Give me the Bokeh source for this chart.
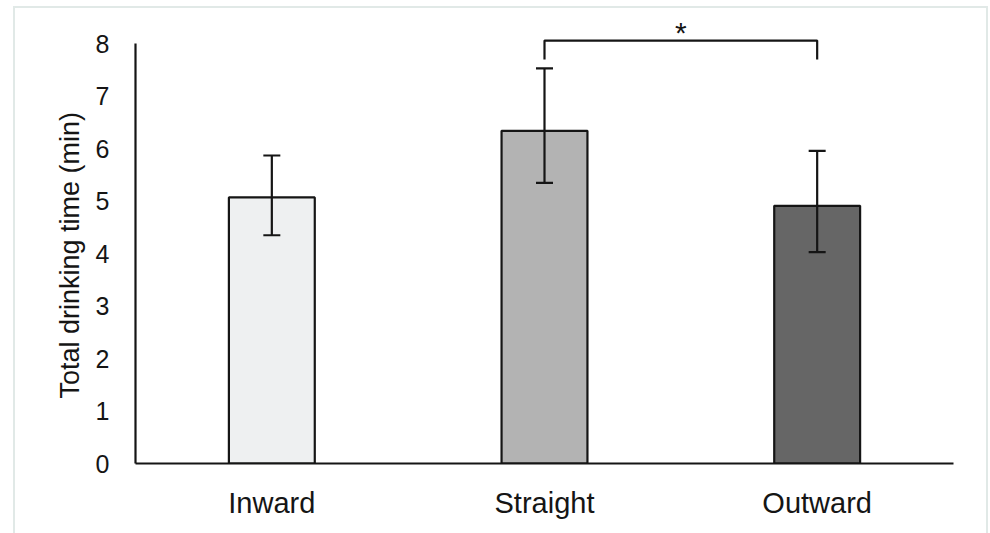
from bokeh.plotting import figure
from bokeh.models import ColumnDataSource, Range1d, FactorRange, Whisker, TeeHead, Title
from bokeh.transform import dodge
from bokeh.core.properties import value
from bokeh.embed import file_html
from bokeh.resources import INLINE

categories = ["Inward", "Straight", "Outward"]
means = [5.07, 6.34, 4.91]
err_upper = [5.87, 7.53, 5.96]
err_lower = [4.35, 5.35, 4.03]
colors = ["#EEF0F1", "#B3B3B3", "#666666"]

bracket_x = ["Straight", "Straight", "Outward", "Outward"]
bracket_y = [7.70, 8.06, 8.06, 7.70]
sig_label = ["*"]
sig_x = ["Straight"]
sig_y = [8.06]
y_label = "Total drinking time (min)"

FONT = "Liberation Sans"
INK = "#151515"
EDGE = "#E1E9E7"

p = figure(x_range=FactorRange(factors=categories, range_padding=0),
           y_range=Range1d(0, 8.5),
           width=990, height=533, output_backend="svg", toolbar_location=None,
           min_border_left=135, min_border_right=37, min_border_top=17, min_border_bottom=70)
p.border_fill_color = None
p.background_fill_color = None
bar = "linear-gradient(%s,%s)" % (EDGE, EDGE)
p.styles = {
    "background-color": "white",
    "background-image": ", ".join([bar] * 3),
    "background-position": "13px 6px, 13px 6px, 986px 6px",
    "background-size": "975px 2px, 2px 540px, 2px 540px",
    "background-repeat": "no-repeat",
}

src = ColumnDataSource(dict(cat=categories, mean=means, up=err_upper, lo=err_lower, color=colors))
p.vbar(x="cat", top="mean", width=0.315, source=src, fill_color="color",
       line_color=INK, line_width=2.2)

w = Whisker(base="cat", upper="up", lower="lo", source=src,
            line_color=INK, line_width=2.2, level="overlay",
            upper_head=TeeHead(size=17, line_color=INK, line_width=2.2),
            lower_head=TeeHead(size=17, line_color=INK, line_width=2.2))
p.add_layout(w)

p.line(x=bracket_x, y=bracket_y, line_color=INK, line_width=2.2)
ssrc = ColumnDataSource(dict(x=sig_x, y=sig_y, t=sig_label))
p.text(x=dodge("x", 0.5, range=p.x_range), y="y", text="t", source=ssrc,
       text_align="center", text_baseline="middle", text_font=value(FONT),
       text_font_size="30px", text_color=INK, y_offset=-8)

p.add_layout(Title(text=y_label, align="left", offset=65, standoff=16,
                   vertical_align="bottom", text_font=FONT, text_font_size="27px",
                   text_font_style="normal", text_color=INK), "left")

p.grid.visible = False
p.outline_line_color = None

p.yaxis.bounds = (0, 8)
p.yaxis.ticker = [0, 1, 2, 3, 4, 5, 6, 7, 8]
p.yaxis.major_label_text_font_size = "25px"
p.yaxis.major_label_standoff = 20

for ax in (p.xaxis, p.yaxis):
    ax.major_tick_line_color = None
    ax.minor_tick_line_color = None
    ax.axis_line_color = INK
    ax.axis_line_width = 2.2
    ax.major_label_text_font = FONT
    ax.major_label_text_color = INK

p.xaxis.major_label_text_font_size = "29px"
p.xaxis.major_label_standoff = 17

open("out.html", "w").write(file_html(p, INLINE))
